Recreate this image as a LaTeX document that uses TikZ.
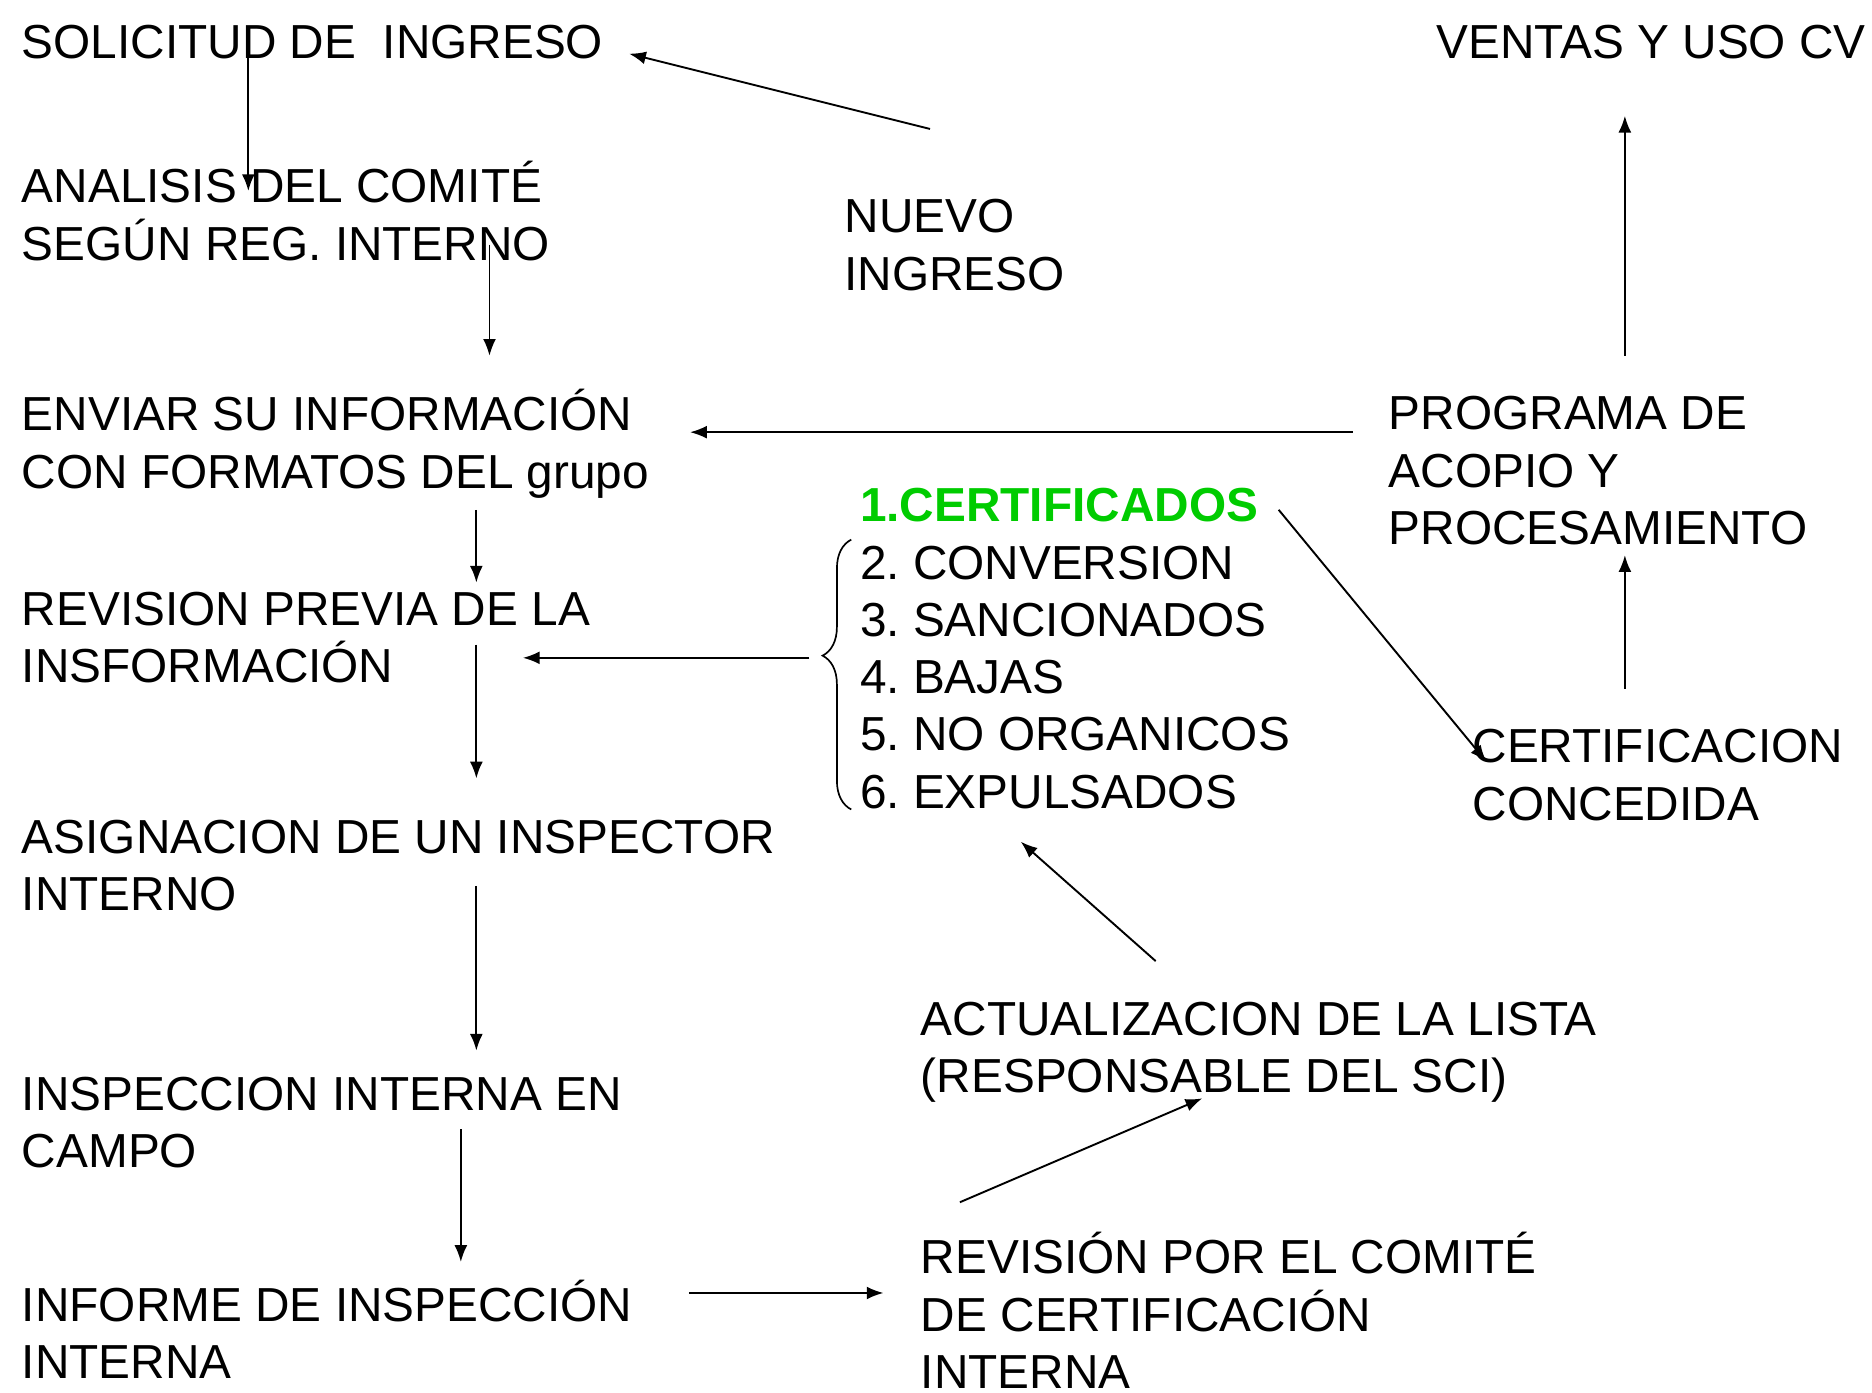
\documentclass[tikz,border=0pt]{standalone}
\usepackage{fontspec}
\setmainfont{Liberation Sans}
\usetikzlibrary{arrows.meta,positioning,decorations.pathreplacing}
\definecolor{verde}{RGB}{0,204,0}
\frenchspacing
\tikzset{
  texto/.style={anchor=base west,inner sep=0pt,align=left,
    font=\fontsize{20pt}{24pt}\selectfont},
  flecha/.style={-{Latex[length=7pt,width=5.4pt]},line width=0.8pt},
}

\begin{document}
\begin{tikzpicture}[x=0.5pt,y=-0.5pt]
\useasboundingbox (0,0) rectangle (1568,1166);
% columna izquierda (la coordenada es la linea base de la ultima linea)
\node[texto] (sol)  at (18,49)   {SOLICITUD DE~ INGRESO};
\node[texto] (ana)  at (18,218)  {ANALISIS DEL COMITÉ\\SEGÚN REG. INTERNO};
\node[texto] (env)  at (18,409)  {ENVIAR SU INFORMACIÓN\\CON FORMATOS DEL grupo};
\node[texto] (rev)  at (18,572)  {REVISION PREVIA DE LA\\INSFORMACIÓN};
\node[texto] (asi)  at (18,763)  {ASIGNACION DE UN INSPECTOR\\INTERNO};
\node[texto] (insp) at (18,978)  {INSPECCION INTERNA EN\\CAMPO};
\node[texto] (inf)  at (18,1155) {INFORME DE INSPECCIÓN\\INTERNA};
% centro
\node[texto] (nuevo) at (707,243) {NUEVO\\INGRESO};
\node[texto,text=verde,font=\fontsize{20pt}{24pt}\selectfont\bfseries] (cert) at (720,437) {1.CERTIFICADOS};
\node[texto] (lista) at (720,677) {2. CONVERSION\\3. SANCIONADOS\\4. BAJAS\\5. NO ORGANICOS\\6. EXPULSADOS};
\node[texto] (act)  at (771,915)  {ACTUALIZACION DE LA LISTA\\(RESPONSABLE DEL SCI)};
\node[texto] (com)  at (771,1163) {REVISIÓN POR EL COMITÉ\\DE CERTIFICACIÓN\\INTERNA};
% columna derecha
\node[texto] (ven)  at (1203,49)  {VENTAS Y USO CV};
\node[texto] (prog) at (1163,456) {PROGRAMA DE\\ACOPIO Y\\PROCESAMIENTO};
\node[texto] (conc) at (1233,687) {CERTIFICACION\\CONCEDIDA};

% extremos de las flechas
\coordinate (a1) at (208,40);   \coordinate (b1) at (208,160);
\coordinate (a2) at (410,205);  \coordinate (b2) at (410,298);
\coordinate (a3) at (779,108);  \coordinate (b3) at (527,45);
\coordinate (a4) at (1133,362); \coordinate (b4) at (578,362);
\coordinate (a5) at (399,427);  \coordinate (b5) at (399,488);
\coordinate (a6) at (399,540);  \coordinate (b6) at (399,652);
\coordinate (a7) at (678,551);  \coordinate (b7) at (438,551);
\coordinate (a8) at (399,742);  \coordinate (b8) at (399,880);
\coordinate (a9) at (386,946);  \coordinate (b9) at (386,1057);
\coordinate (a10) at (577,1083); \coordinate (b10) at (740,1083);
\coordinate (a11) at (804,1007); \coordinate (b11) at (1007,920);
\coordinate (a12) at (968,805);  \coordinate (b12) at (855,705);
\coordinate (a13) at (1071,427); \coordinate (b13) at (1245,638);
\coordinate (a14) at (1361,577); \coordinate (b14) at (1361,465);
\coordinate (a15) at (1361,298); \coordinate (b15) at (1361,97);

\draw[flecha] (a1)--(b1);
\draw[flecha] (a2)--(b2);
\draw[flecha] (a3)--(b3);
\draw[flecha] (a4)--(b4);
\draw[flecha] (a5)--(b5);
\draw[flecha] (a6)--(b6);
\draw[flecha] (a7)--(b7);
\draw[flecha] (a8)--(b8);
\draw[flecha] (a9)--(b9);
\draw[flecha] (a10)--(b10);
\draw[flecha] (a11)--(b11);
\draw[flecha] (a12)--(b12);
\draw[flecha] (a13)--(b13);
\draw[flecha] (a14)--(b14);
\draw[flecha] (a15)--(b15);

% llave de la lista
\coordinate (l1) at (713,678);
\coordinate (l2) at (713,452);
\draw[line width=0.7pt,decorate,decoration={brace,amplitude=12pt,aspect=0.57}] (l1)--(l2);
\end{tikzpicture}
\end{document}
